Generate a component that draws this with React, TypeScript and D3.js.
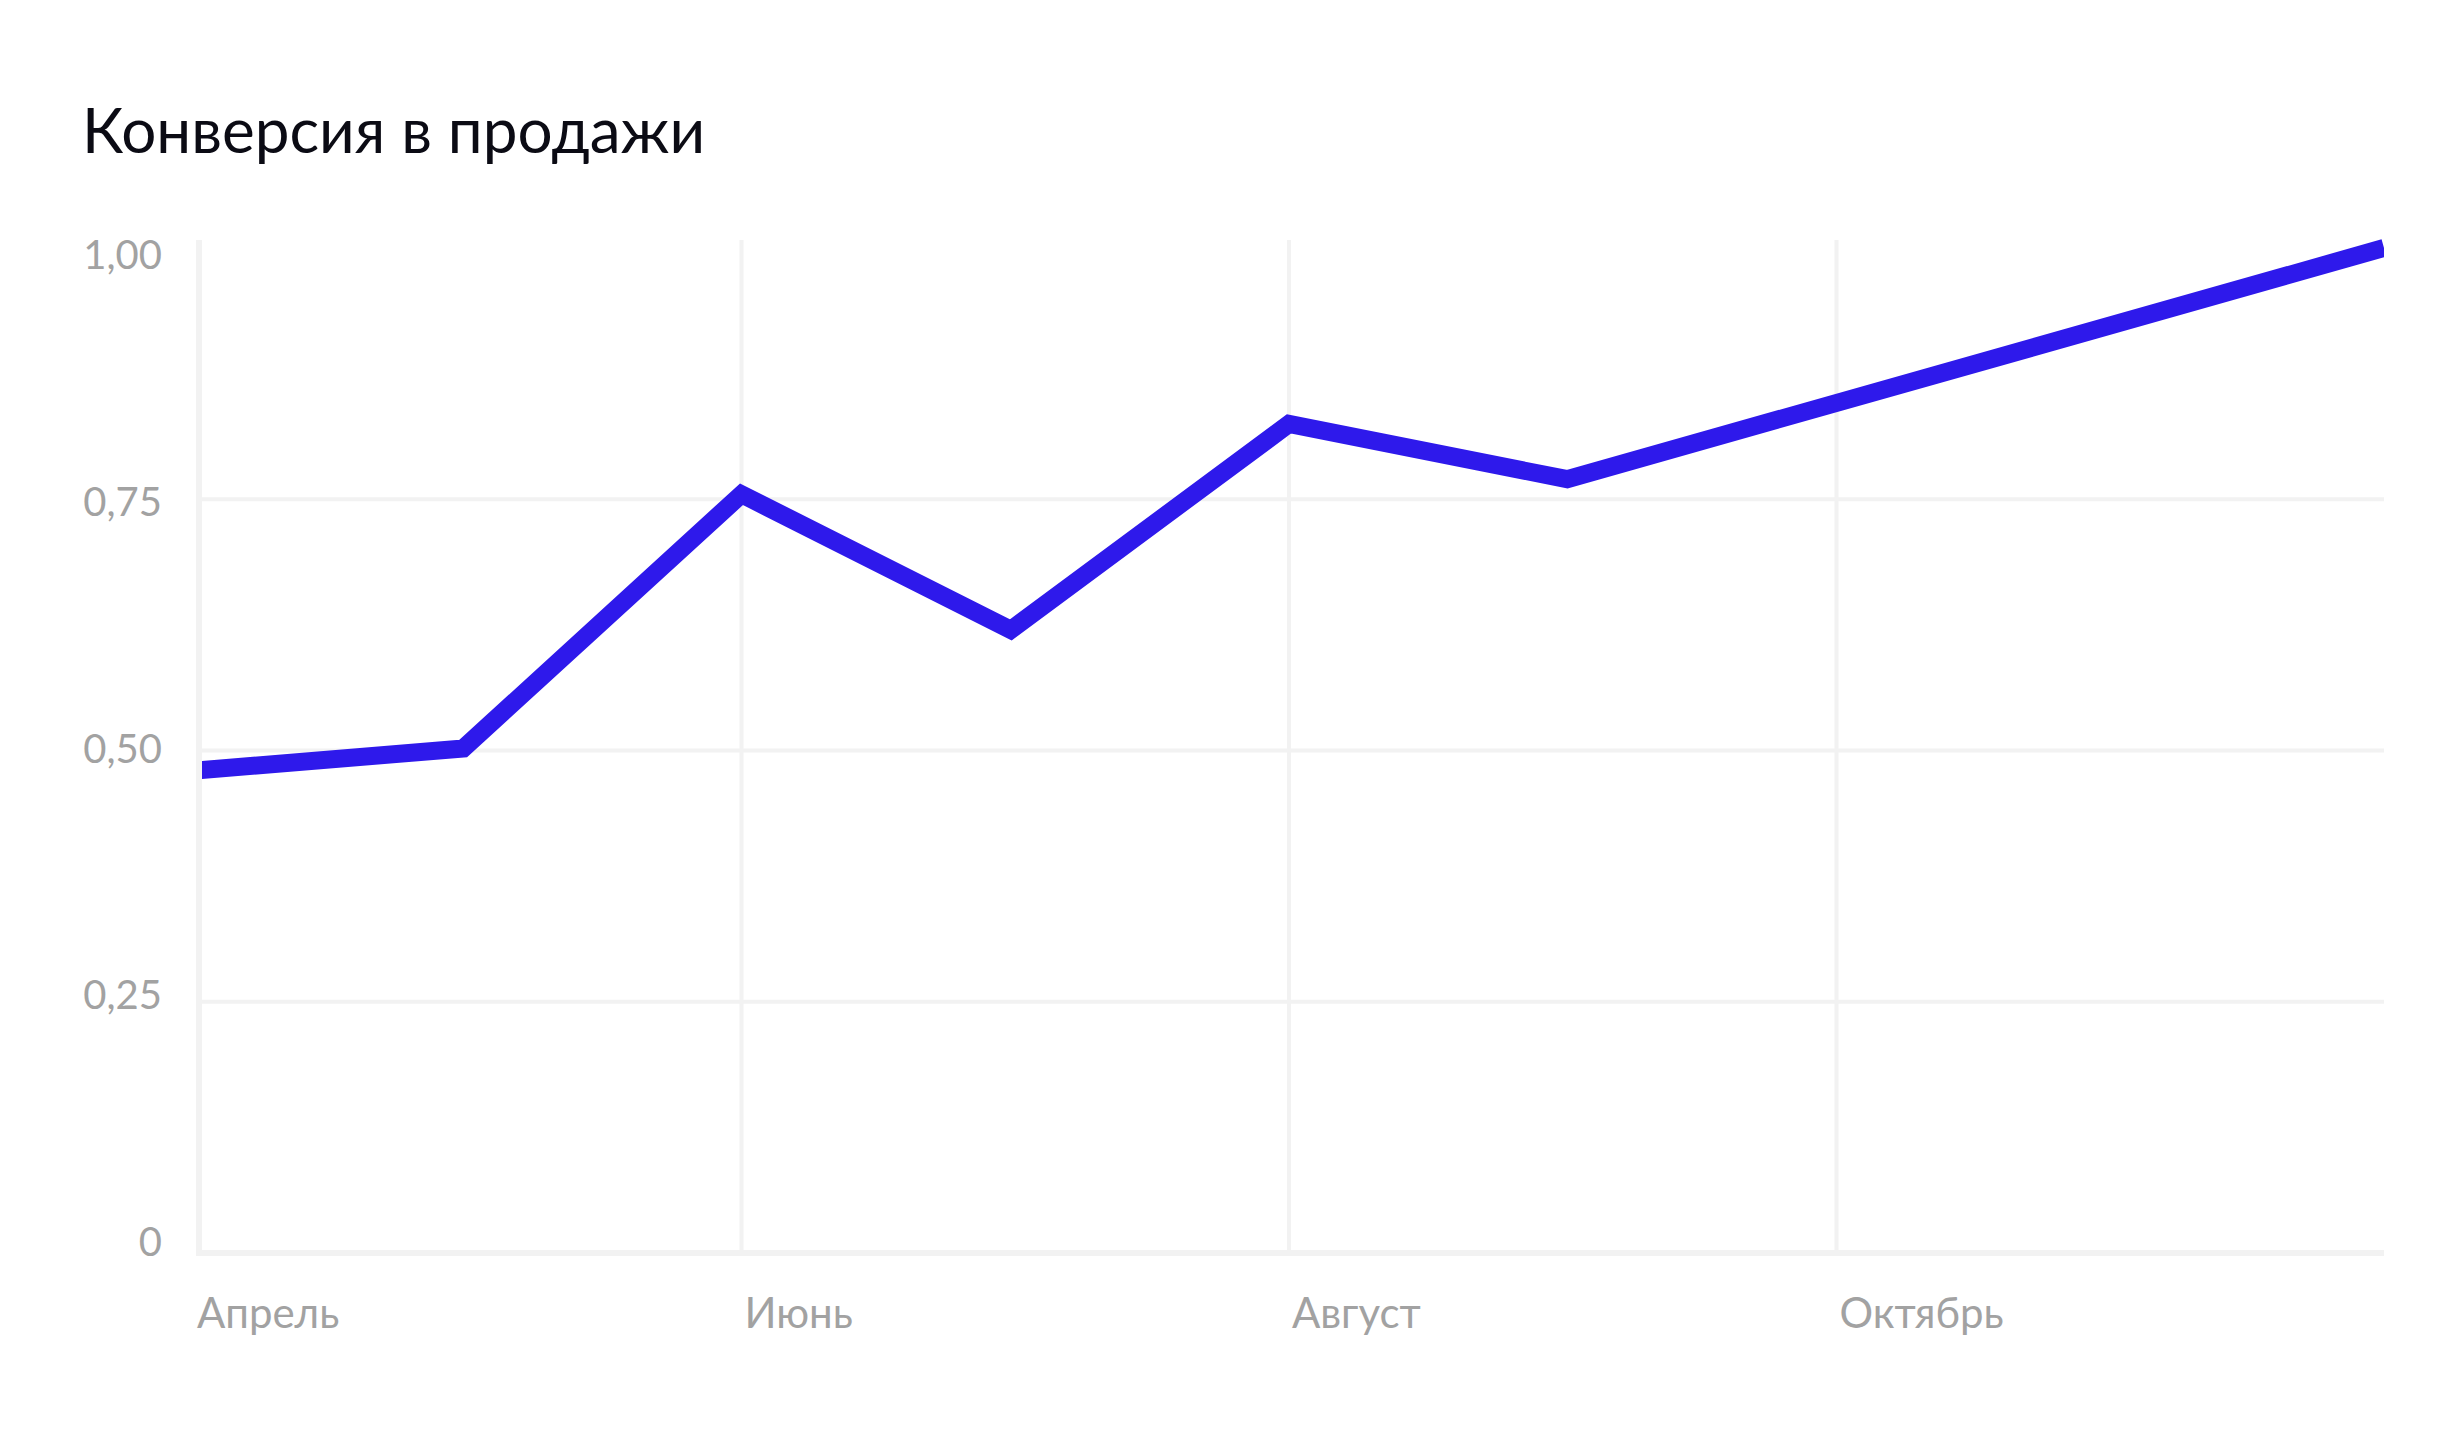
import React from "react";
import * as d3 from "d3";

const title = "Конверсия в продажи";
const pointDates = ["2023-04-01", "2023-05-01", "2023-06-01", "2023-07-01", "2023-08-01", "2023-09-01", "2023-12-01"];
const values = [0.48, 0.502, 0.755, 0.62, 0.825, 0.77, 1.0];
const xTickDates = ["2023-04-01", "2023-06-01", "2023-08-01", "2023-10-01"];
const xTickLabels = ["Апрель", "Июнь", "Август", "Октябрь"];
const yTicks = [0, 0.25, 0.5, 0.75, 1];
const yTickLabels = ["0", "0,25", "0,50", "0,75", "1,00"];

const W = 2464;
const H = 1440;
const FONT = "Lato, 'Open Sans', sans-serif";

export default function App() {
  const parse = d3.utcParse("%Y-%m-%d");
  const x = d3.scaleUtc().domain([parse("2023-04-01")!, parse("2023-12-01")!]).range([194, 2384]);
  const y = d3.scaleLinear().domain([0, 1]).range([1253, 248]);
  const yLabel = d3.scaleLinear().domain([0, 1]).range([1256, 269]);
  const data = pointDates.map((d, i) => ({ date: parse(d)!, v: values[i] }));
  const line = d3
    .line<{ date: Date; v: number }>()
    .x((d) => x(d.date))
    .y((d) => y(d.v))
    .curve(d3.curveLinear);
  const [, x1] = x.range();
  const axisX = 199;
  const top = y(1) - 8;
  const grid = "#f2f2f2";
  const labelColor = "#a2a2a2";

  return (
    <svg width={W} height={H} style={{ position: "absolute", left: 0, top: 0, background: "#fff" }}>
      <defs>
        <clipPath id="plotclip">
          <rect x={axisX + 3} y={0} width={x1 - axisX - 3} height={H} />
        </clipPath>
      </defs>
      <text x={82} y={153} fontFamily={FONT} fontSize={62} fill="#0b0b14">
        {title}
      </text>
      {yTicks
        .filter((t) => t > 0 && t < 1)
        .map((t) => (
          <line key={"h" + t} x1={axisX} x2={x1} y1={y(t)} y2={y(t)} stroke={grid} strokeWidth={4} />
        ))}
      {xTickDates.slice(1).map((d) => (
        <line key={"v" + d} x1={x(parse(d)!)} x2={x(parse(d)!)} y1={top} y2={y(0)} stroke={grid} strokeWidth={4} />
      ))}
      <line x1={axisX} x2={axisX} y1={top} y2={y(0) + 3} stroke={grid} strokeWidth={6} />
      <line x1={axisX - 3} x2={x1} y1={y(0)} y2={y(0)} stroke={grid} strokeWidth={6} />
      {yTicks.map((t, i) => (
        <text
          key={"yl" + t}
          x={162}
          y={yLabel(t)}
          textAnchor="end"
          fontFamily={FONT}
          fontSize={40}
          fill={labelColor}
        >
          {yTickLabels[i]}
        </text>
      ))}
      {xTickDates.map((d, i) => (
        <text
          key={"xl" + d}
          x={x(parse(d)!) + 3}
          y={1328}
          fontFamily={FONT}
          fontSize={42}
          fill={labelColor}
        >
          {xTickLabels[i]}
        </text>
      ))}
      <path
        d={line(data) || ""}
        fill="none"
        stroke="#2e19eb"
        strokeWidth={18}
        strokeLinejoin="miter"
        strokeLinecap="butt"
        clipPath="url(#plotclip)"
      />
    </svg>
  );
}
